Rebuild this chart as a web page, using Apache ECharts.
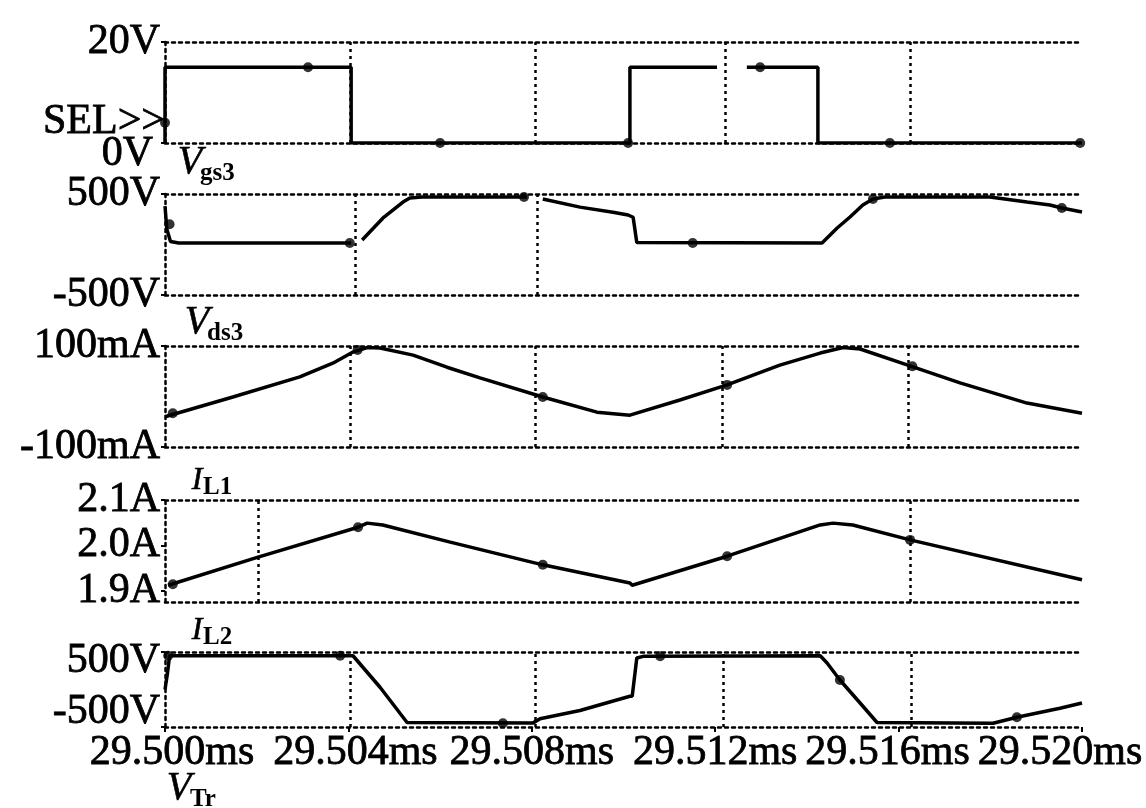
<!DOCTYPE html>
<html>
<head>
<meta charset="utf-8">
<script src="https://cdn.jsdelivr.net/npm/echarts@6/dist/echarts.min.js"></script>
<style>
  html, body { margin: 0; padding: 0; background: #fff; }
  #chartContainer { width: 1146px; height: 808px; }
</style>
</head>
<body>
<div id="chartContainer"></div>
<script>
// time on every panel: microseconds after 29.500ms
const tickLabels = ["29.500ms", "29.504ms", "29.508ms", "29.512ms", "29.516ms", "29.520ms"];

// V_gs3 (V)
const vgsTime = [0, 0, 4.06, 4.06, 10.14, 10.14, 12.04, 12.36, 12.69, 14.24, 14.24, 20];
const vgsValue = [0, 15, 15, 0, 0, 15, 15, null, 15, 15, 0, 0];
const vgsMarkTime = [0, 3.12, 6.0, 10.1, 12.98, 15.81, 19.96];
const vgsMarkValue = [4, 15, 0, 0, 15, 0, 0];
const vgsTicks = [0, 20];

// V_ds3 (V)
const vdsTime = [0, 0.04, 0.12, 0.3, 4.06, 4.15, 4.3, 4.75, 5.19, 5.34, 5.6, 7.9, 8.05, 8.24, 9.05, 9.77,
  10.1, 10.21, 10.29, 14.33, 14.66, 14.94, 15.22, 15.44, 15.7, 17.99, 18.8, 19.3, 19.56, 20];
const vdsValue = [380, 150, 30, 15, 15, null, 45, 260, 420, 460, 470, 470, null, 450, 370, 320,
  292, 270, 20, 15, 163, 272, 391, 450, 470, 470, 420, 391, 361, 322];
const vdsMarkTime = [0.1, 4.03, 7.83, 11.51, 15.44, 19.56];
const vdsMarkValue = [200, 15, 470, 15, 450, 361];
const vdsTicks = [-500, 500];

// I_L1 (mA)
const il1Time = [0, 1.48, 2.94, 3.66, 4.1, 4.41, 4.69, 5.41, 6.15, 6.87, 8.24, 9.42, 10.14, 11.23,
  12.26, 13.41, 14.29, 14.79, 15.16, 16.2, 17.34, 18.8, 20];
const il1Value = [-40, -1, 39, 66, 88, 97, 96, 82, 58, 37, -1, -31, -37, -7,
  23, 62, 86, 97, 94, 62, 27, -13, -33];
const il1MarkTime = [0.17, 4.2, 8.24, 12.26, 16.3];
const il1MarkValue = [-33, 92, -1, 23, 60];
const il1Ticks = [-100, 100];

// I_L2 (A)
const il2Time = [0.07, 2.03, 4.21, 4.41, 4.75, 6.22, 8.24, 10.14, 10.19, 12.26, 14.29, 14.57, 15.0, 16.25, 20];
const il2Value = [1.912, 1.974, 2.040, 2.049, 2.045, 2.007, 1.957, 1.917, 1.912, 1.976, 2.045, 2.049, 2.045, 2.012, 1.924];
const il2MarkTime = [0.17, 4.21, 8.24, 12.26, 16.25];
const il2MarkValue = [1.914, 2.040, 1.957, 1.976, 2.012];
const il2Ticks = [1.9, 2.0, 2.1];

// V_Tr (V)
const vtrTime = [0, 0.05, 0.1, 4.1, 4.69, 5.28, 8.03, 8.18, 9.05, 10.14, 10.19, 10.29, 10.45,
  14.29, 14.44, 14.72, 15.16, 15.53, 18.06, 18.58, 19.52, 20];
const vtrValue = [0, 200, 450, 450, 30, -440, -445, -390, -280, -90, -90, 420, 445,
  450, 353, 127, -180, -440, -450, -370, -250, -180];
const vtrMarkTime = [0.07, 3.82, 7.37, 10.8, 14.72, 18.58];
const vtrMarkValue = [450, 450, -450, 445, 127, -370];
const vtrTicks = [-500, 500];

// dotted vertical grid lines drawn in each panel
const vgsGrid = [4.03, 8.07, 12.21, 16.25];
const vdsGrid = [4.14, 8.11];
const il1Grid = [4.03, 8.07, 12.15, 16.2];
const il2Grid = [2.03, 16.25];
const vtrGrid = [4.03, 8.07, 12.17, 16.27];

const fontFamily = '"Liberation Serif", "DejaVu Serif", serif';
const dotted = { color: "#000", width: 2.5, type: [3, 4] };
const labelFont = {
  fontSize: 42, fontFamily: fontFamily, color: "#000",
  textBorderColor: "#000", textBorderWidth: 0.8
};
const xLabelShift = [7, 7, 0, 0, -11, -22];

const pairs = (ts, vs) => ts.map((t, i) => [t, vs[i] === null ? "-" : vs[i]]);

const panels = [
  {
    top: 42, height: 101, min: 0, max: 20, ticks: vgsTicks,
    label: v => (v === 0 ? "{low|0V}" : "{base|" + v + "V}"),
    line: pairs(vgsTime, vgsValue), marks: pairs(vgsMarkTime, vgsMarkValue), grid: vgsGrid
  },
  {
    top: 194, height: 101, min: -500, max: 500, ticks: vdsTicks,
    label: v => "{base|" + v + "V}",
    line: pairs(vdsTime, vdsValue), marks: pairs(vdsMarkTime, vdsMarkValue), grid: vdsGrid
  },
  {
    top: 346, height: 101, min: -100, max: 100, ticks: il1Ticks,
    label: v => "{base|" + v + "mA}",
    line: pairs(il1Time, il1Value), marks: pairs(il1MarkTime, il1MarkValue), grid: il1Grid
  },
  {
    top: 500, height: 102, min: 1.875, max: 2.1, ticks: il2Ticks,
    label: v => "{base|" + v.toFixed(1) + "A}",
    line: pairs(il2Time, il2Value), marks: pairs(il2MarkTime, il2MarkValue), grid: il2Grid
  },
  {
    top: 652, height: 75, min: -500, max: 500, ticks: vtrTicks,
    label: v => (v > 0 ? "{hi|" + v + "V}" : "{lo|" + v + "V}"),
    line: pairs(vtrTime, vtrValue), marks: pairs(vtrMarkTime, vtrMarkValue), grid: vtrGrid
  }
];

const yRich = {
  base: Object.assign({}, labelFont),
  low: Object.assign({ padding: [22, 7, 0, 0] }, labelFont),
  hi: Object.assign({ padding: [18, 0, 0, 0] }, labelFont),
  lo: Object.assign({ padding: [0, 0, 30, 0] }, labelFont)
};

const xRich = {};
xLabelShift.forEach((s, i) => {
  xRich["t" + i] = Object.assign(
    { padding: s >= 0 ? [0, 0, 0, 2 * s] : [0, -2 * s, 0, 0] },
    labelFont
  );
});

const grids = [];
const xAxes = [];
const yAxes = [];
const series = [];

panels.forEach((p, i) => {
  const last = i === panels.length - 1;
  grids.push({ left: 165, right: 64, top: p.top, height: p.height });
  xAxes.push({
    type: "value", gridIndex: i, min: 0, max: 20, interval: 4, position: "bottom",
    axisLine: { show: true, onZero: false, lineStyle: dotted },
    axisTick: { show: last, length: 5, lineStyle: { color: "#000", width: 2 } },
    splitLine: { show: false },
    axisLabel: {
      show: last, margin: 5, showMinLabel: true, showMaxLabel: true,
      formatter: v => {
        const k = Math.round(v / 4);
        return "{t" + k + "|" + tickLabels[k] + "}";
      },
      rich: xRich
    }
  });
  xAxes.push({
    type: "value", gridIndex: i, min: 0, max: 20, position: "top",
    axisLine: { show: true, onZero: false, lineStyle: dotted },
    axisTick: { show: false }, axisLabel: { show: false }, splitLine: { show: false }
  });
  yAxes.push({
    type: "value", gridIndex: i, min: p.min, max: p.max,
    axisLine: { show: true, onZero: false, lineStyle: dotted },
    axisTick: { show: true, length: 4, customValues: p.ticks, lineStyle: { color: "#000", width: 2 } },
    splitLine: { show: false },
    axisLabel: { customValues: p.ticks, margin: 5, formatter: p.label, rich: yRich }
  });
  series.push({
    type: "line", xAxisIndex: 2 * i, yAxisIndex: i, data: p.line,
    showSymbol: false, connectNulls: false, silent: true,
    lineStyle: { color: "#000", width: 3.5 },
    markLine: {
      silent: true, symbol: "none", label: { show: false },
      lineStyle: dotted,
      data: p.grid.map(t => ({ xAxis: t }))
    }
  });
  series.push({
    type: "scatter", xAxisIndex: 2 * i, yAxisIndex: i, data: p.marks,
    symbolSize: 10, itemStyle: { color: "#000" }, silent: true
  });
});

// trace names (main letter + subscript)
const traceNames = [
  { main: "V", sub: "gs3", x: 190, y: 162, sx: 200, sy: 174, size: 40 },
  { main: "V", sub: "ds3", x: 197, y: 322, sx: 207, sy: 334, size: 40 },
  { main: "I", sub: "L1", x: 197, y: 481, sx: 203, sy: 488, size: 32 },
  { main: "I", sub: "L2", x: 197, y: 631, sx: 203, sy: 638, size: 32 },
  { main: "V", sub: "Tr", x: 179, y: 788, sx: 190, sy: 800, size: 40 }
];

const graphics = [{
  type: "text", x: 165, y: 122,
  style: {
    text: "SEL>>", fill: "#000", fontSize: 42, fontFamily: fontFamily,
    stroke: "#000", lineWidth: 0.8,
    align: "right", verticalAlign: "middle", textAlign: "right", textVerticalAlign: "middle"
  }
}];
traceNames.forEach(n => {
  graphics.push({
    type: "text", x: n.x, y: n.y,
    style: {
      text: n.main, fill: "#000", fontSize: n.size, fontStyle: "italic", fontFamily: fontFamily,
      stroke: "#000", lineWidth: 0.6,
      align: "center", verticalAlign: "middle", textAlign: "center", textVerticalAlign: "middle"
    }
  });
  graphics.push({
    type: "text", x: n.sx, y: n.sy,
    style: {
      text: n.sub, fill: "#000", fontSize: 25, fontWeight: "bold", fontFamily: fontFamily,
      align: "left", verticalAlign: "middle", textAlign: "left", textVerticalAlign: "middle"
    }
  });
});

const mychart = echarts.init(document.getElementById("chartContainer"));
mychart.setOption({
  animation: false,
  backgroundColor: "#fff",
  grid: grids,
  xAxis: xAxes,
  yAxis: yAxes,
  series: series,
  graphic: graphics
});
</script>
</body>
</html>
